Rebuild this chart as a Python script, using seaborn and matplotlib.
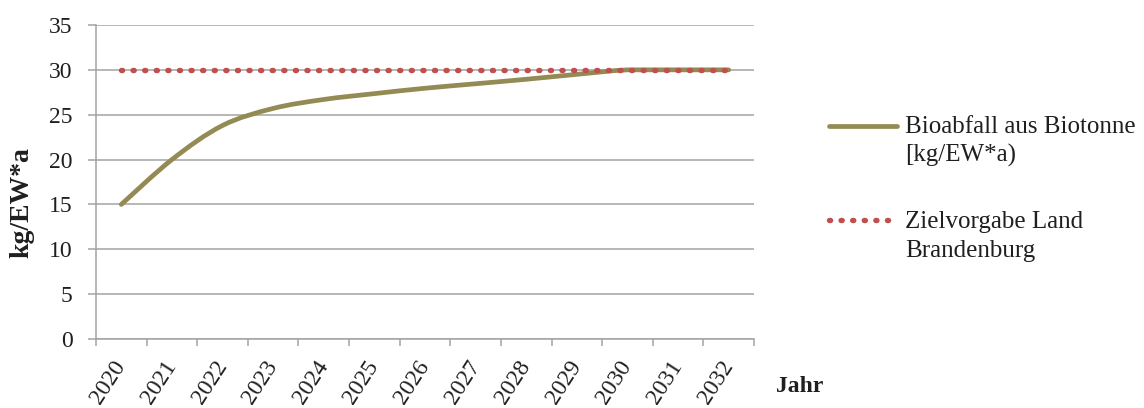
import numpy as np
import pandas as pd
import matplotlib
matplotlib.use("Agg")
import matplotlib.pyplot as plt
import seaborn as sns
from matplotlib.path import Path
from matplotlib.patches import PathPatch
from matplotlib.lines import Line2D

# Data
years = ["2020", "2021", "2022", "2023", "2024", "2025", "2026",
         "2027", "2028", "2029", "2030", "2031", "2032"]
bioabfall = [15.0, 20.0, 23.8, 25.7, 26.7, 27.35, 27.95, 28.45, 28.95, 29.5, 30.0, 30.0, 30.0]
zielvorgabe = [30, 30, 30, 30, 30, 30, 30, 30, 30, 30, 30, 30, 30]
y_ticks = [0, 5, 10, 15, 20, 25, 30, 35]
label_bio = "Bioabfall aus Biotonne\n[kg/EW*a)"
label_ziel = "Zielvorgabe Land\nBrandenburg"

OLIVE = "#948a54"
RED = "#c0504d"
GRID = "#a3a3a3"
TEXT = "#1f1f1f"
SERIF = ["Liberation Serif", "DejaVu Serif"]

LW_OLIVE = 3.4
LW_DOT = 3.9
DOTS = (0, (0.2, 1.94))

sns.set_theme(style="white")
plt.rcParams["font.family"] = SERIF
plt.rcParams["text.color"] = TEXT

df = pd.DataFrame({"pos": np.arange(len(years)), "jahr": years,
                   "bio": bioabfall, "ziel": zielvorgabe})

fig = plt.figure(figsize=(11.44, 4.08), dpi=100)
ax = fig.add_axes([96 / 1144, 1 - 339 / 408, (754 - 96) / 1144, (339 - 25) / 408])

# Smoothed series as cubic Bezier segments through the data points
px = df["pos"].to_numpy(dtype=float)
py = df["bio"].to_numpy(dtype=float)
n = len(px)
verts = [(px[0], py[0])]
codes = [Path.MOVETO]
for i in range(n - 1):
    p0 = np.array([px[max(i - 1, 0)], py[max(i - 1, 0)]])
    p1 = np.array([px[i], py[i]])
    p2 = np.array([px[i + 1], py[i + 1]])
    p3 = np.array([px[min(i + 2, n - 1)], py[min(i + 2, n - 1)]])
    c1 = p1 + (p2 - p0) / 6.0
    c2 = p2 - (p3 - p1) / 6.0
    # keep the curve from overshooting a flat run
    c1[1] = min(c1[1], max(p1[1], p2[1]))
    c2[1] = min(c2[1], max(p1[1], p2[1]))
    verts += [tuple(c1), tuple(c2), tuple(p2)]
    codes += [Path.CURVE4] * 3
ax.add_patch(PathPatch(Path(verts, codes), facecolor="none", edgecolor=OLIVE,
                       lw=LW_OLIVE, capstyle="round", joinstyle="round", zorder=3))

# Target line, dotted
sns.lineplot(data=df, x="pos", y="ziel", ax=ax, color=RED, lw=LW_DOT,
             linestyle=DOTS, dash_capstyle="round", zorder=4)

ax.set_xlim(-0.5, len(years) - 0.5)
ax.set_ylim(0, 35)
ax.set_yticks(y_ticks)
ax.set_yticklabels([str(v) for v in y_ticks])
ax.set_xticks(df["pos"])
ax.set_xticklabels(years, rotation=57, ha="right", va="center", rotation_mode="anchor")
ax.set_xticks(np.arange(-0.5, len(years), 1.0), minor=True)

ax.grid(axis="y", color=GRID, lw=1.1)
ax.set_axisbelow(True)
for s in ["top", "right"]:
    ax.spines[s].set_visible(False)
for s in ["left", "bottom"]:
    ax.spines[s].set_color(GRID)
    ax.spines[s].set_linewidth(1.1)

ax.tick_params(axis="y", which="major", left=True, length=6, width=1.1, color=GRID,
               labelsize=17, labelcolor=TEXT, pad=11)
ax.tick_params(axis="x", which="major", bottom=False, length=0, labelsize=17,
               labelcolor=TEXT, pad=17)
ax.tick_params(axis="x", which="minor", bottom=True, length=5, width=1.1, color=GRID)

ax.set_xlabel("")
ax.set_ylabel("kg/EW*a", fontsize=20, fontweight="bold", color=TEXT)
ax.yaxis.set_label_coords(-0.094, (339 - 203) / 314)

fig.text(800 / 1144, 1 - 392 / 408, "Jahr", fontsize=17, fontweight="bold",
         ha="center", va="baseline", color=TEXT)

# Legend
def fy(y):
    return 1 - y / 408

fig.add_artist(Line2D([829 / 1144, 897 / 1144], [fy(126), fy(126)], color=OLIVE,
                      lw=LW_OLIVE, solid_capstyle="round", transform=fig.transFigure))
fig.add_artist(Line2D([829 / 1144, 892 / 1144], [fy(220), fy(220)], color=RED,
                      lw=LW_DOT, linestyle=DOTS, dash_capstyle="round",
                      transform=fig.transFigure))
for base, txt in [(133, label_bio), (228, label_ziel)]:
    for k, line in enumerate(txt.split("\n")):
        fig.text(905 / 1144, fy(base + 29 * k), line, fontsize=18, ha="left",
                 va="baseline", color=TEXT)

fig.savefig("out.png", dpi=100, facecolor="white")
